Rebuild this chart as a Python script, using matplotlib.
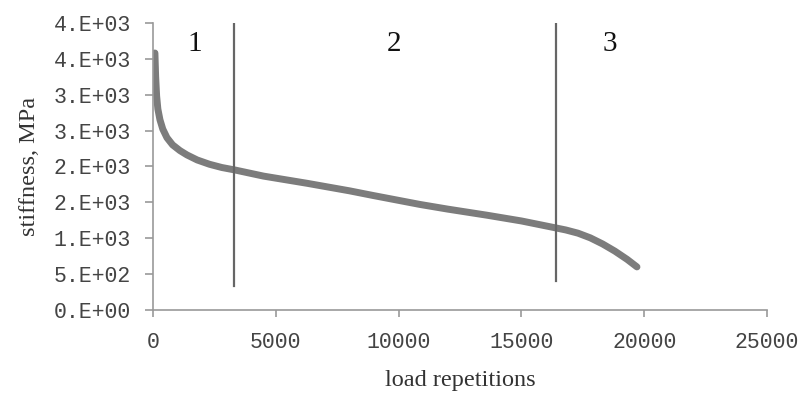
import matplotlib.pyplot as plt
import numpy as np

# stiffness curve
cycles = [80, 110, 150, 200, 285, 400, 570, 800, 1100, 1385, 1800, 2300, 2800, 3340,
          4500, 6270, 8000, 8960, 10870, 12000, 13600, 15000, 16370, 16800, 17300,
          17800, 18300, 18800, 19300, 19700]
stiffness = [3580, 3250, 2980, 2800, 2650, 2520, 2400, 2300, 2220, 2160, 2090, 2030,
             1985, 1950, 1865, 1765, 1660, 1595, 1470, 1405, 1320, 1240, 1145, 1115,
             1070, 1005, 920, 820, 705, 600]

# phase boundaries and labels
bound_x = [3300, 16400]
bound_ymin = [330, 400]
phase_names = ['1', '2', '3']
phase_x = [1700, 9800, 18600]

y_ticks = [0, 500, 1000, 1500, 2000, 2500, 3000, 3500, 4000]
y_labels = ['0.E+00', '5.E+02', '1.E+03', '2.E+03', '2.E+03',
            '3.E+03', '3.E+03', '4.E+03', '4.E+03']
x_ticks = [0, 5000, 10000, 15000, 20000, 25000]

fig = plt.figure(figsize=(8.05, 4.01), dpi=100)
ax = fig.add_axes([0.190, 0.227, 0.763, 0.716])

ax.plot(cycles, stiffness, color='#7c7c7c', linewidth=5,
        solid_capstyle='round', solid_joinstyle='round')

for bx, ymin in zip(bound_x, bound_ymin):
    ax.plot([bx, bx], [ymin, 4000], color='#666666', linewidth=1.6)

for name, px in zip(phase_names, phase_x):
    ax.text(px, 3700, name, fontsize=21, family='Liberation Serif',
            ha='center', va='center', color='#111111')

ax.set_xlim(0, 25000)
ax.set_ylim(0, 4000)
ax.set_yticks(y_ticks)
ax.set_yticklabels(y_labels)
ax.set_xticks(x_ticks)

for s in ['top', 'right']:
    ax.spines[s].set_visible(False)
for s in ['left', 'bottom']:
    ax.spines[s].set_color('#999999')
    ax.spines[s].set_linewidth(1.2)

ax.tick_params(axis='y', direction='out', length=6, width=1.2, color='#999999',
               pad=10, labelsize=15.5, labelcolor='#444444')
ax.tick_params(axis='x', direction='out', length=5, width=1.2, color='#999999',
               pad=11, labelsize=15.5, labelcolor='#444444')
for lbl in ax.get_xticklabels() + ax.get_yticklabels():
    lbl.set_family('Liberation Mono')

ax.set_ylabel('stiffness, MPa', fontsize=17.5, family='Liberation Serif',
              color='#333333', labelpad=10)
ax.set_xlabel('load repetitions', fontsize=17.5, family='Liberation Serif',
              color='#333333', labelpad=12)

plt.savefig('out.png', dpi=100)
